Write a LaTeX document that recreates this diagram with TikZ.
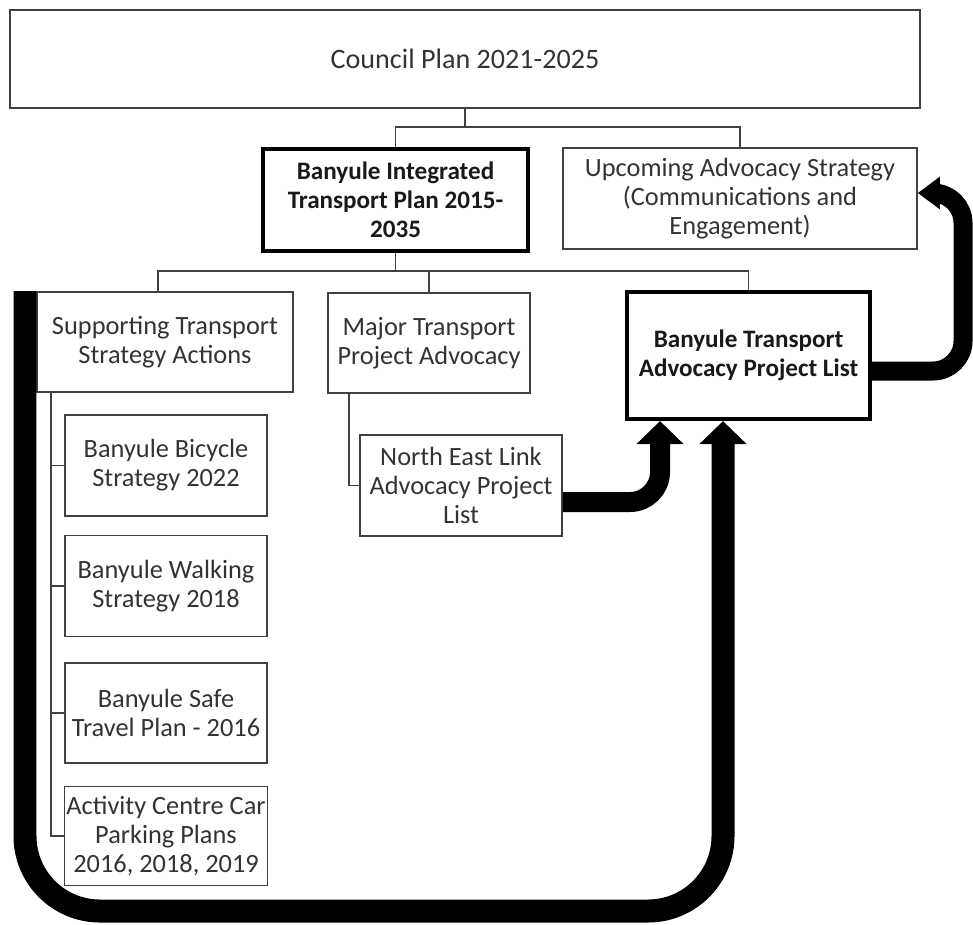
\documentclass[tikz,border=0pt]{standalone}
\usepackage{fontspec}
\setmainfont{Carlito}
\usetikzlibrary{positioning, calc, arrows.meta}
\tikzstyle{fat} = [line width=0.4cm, -{Triangle[length=0.46cm, width=0.92cm]}]

\begin{document}
\begin{tikzpicture}[x=0.02cm, y=-0.02cm,
    box/.style={rectangle, draw=black!75, line width=0.9pt, fill=white,
                align=center, text=black!80, inner sep=1pt,
                font=\fontsize{15}{16.5}\selectfont},
    keybox/.style={box, draw=black, line width=2.4pt, text=black!90,
                   font=\fontsize{14.3}{16.5}\selectfont\bfseries},
    link/.style={draw=black!75, line width=0.9pt},
    node distance=0.36cm
]
\useasboundingbox[fill=white] (0,0) rectangle (973,924);

% --- Top level ---
\node[box, minimum width=18.2cm, minimum height=1.96cm,
      font=\fontsize{16}{17}\selectfont] (cp) at (465,59)
    {Council Plan 2021-2025};
\node[keybox, minimum width=5.3cm, minimum height=2.04cm] (bitp) at (395.5,200)
    {Banyule Integrated\\Transport Plan 2015-\\2035};
\node[box, minimum width=7.08cm, minimum height=2.02cm] (uas) at (740,198.5)
    {Upcoming Advocacy Strategy\\(Communications and\\Engagement)};

% --- Second level ---
\node[box, minimum width=5.12cm, minimum height=2cm] (sta) at (165,342)
    {Supporting Transport\\Strategy Actions};
\node[box, minimum width=4.04cm, minimum height=2cm] (mtpa) at (429,343)
    {Major Transport\\Project Advocacy};
\node[keybox, minimum width=4.86cm, minimum height=2.54cm] (btapl) at (748.5,355.5)
    {Banyule Transport\\Advocacy Project List};
\node[box, minimum width=4.04cm, minimum height=2.02cm] (nel) at (461,485.5)
    {North East Link\\Advocacy Project\\List};

% --- Supporting strategies ---
\node[box, minimum width=4.04cm, minimum height=2.02cm] (bbs) at (166,465.5)
    {Banyule Bicycle\\Strategy 2022};
\node[box, minimum width=4.04cm, minimum height=2.02cm, below=of bbs] (bws)
    {Banyule Walking\\Strategy 2018};
\node[box, minimum width=4.04cm, minimum height=2cm, below=0.5cm of bws] (bstp)
    {Banyule Safe\\Travel Plan - 2016};
\node[box, minimum width=4.04cm, minimum height=1.98cm, below=0.44cm of bstp] (accp)
    {Activity Centre Car\\Parking Plans\\2016, 2018, 2019};

% --- Tree lines ---
\coordinate (cpj) at (465,127);
\draw[link] (cp.south) -- (cpj);
\draw[link] (bitp.north) |- (cpj) -| (uas.north);

\coordinate (bitpj) at (395.5,271);
\draw[link] (bitp.south) -- (bitpj);
\draw[link] ([xshift=-0.14cm]sta.north) |- (bitpj) -| (btapl.north);
\draw[link] (mtpa.north) |- (bitpj);

\coordinate (spine) at (51,392);
\draw[link] (spine) |- (accp.west);
\foreach \n in {bbs, bws, bstp}
    \draw[link] (\n.west) -- (\n.west -| spine);

\draw[link] ([xshift=-1.6cm]mtpa.south) |- (nel.west);

% --- Feed arrows ---
\draw[fat, rounded corners=0.6cm]
    ([yshift=-0.33cm]nel.east) -| ([xshift=-1.77cm]btapl.south);

\coordinate (ustart) at (25,291);
\coordinate (ubase) at (373,911);
\draw[fat, line width=0.46cm, rounded corners=1.5cm]
    (ustart) |- (ubase) -| ([xshift=-0.51cm]btapl.south);

\coordinate (rturn) at (963,193);
\draw[line width=0.38cm, -{Triangle[length=0.44cm, width=0.62cm]},
      rounded corners=0.6cm]
    ([yshift=-0.31cm]btapl.east) -| (rturn) -- (uas.east |- rturn);

\end{tikzpicture}
\end{document}
